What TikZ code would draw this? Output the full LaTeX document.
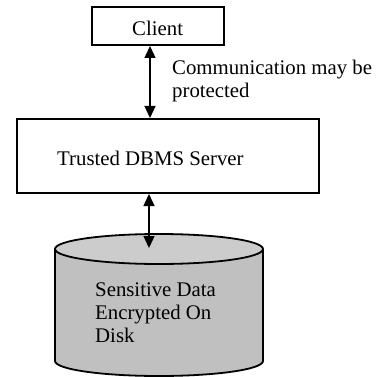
\documentclass[tikz,border=0pt]{standalone}
\usepackage{fontspec}
\setmainfont{Liberation Serif}
\usetikzlibrary{arrows.meta}
\definecolor{bodygray}{HTML}{C0C0C0}
\definecolor{topgray}{HTML}{CCCCCC}
\tikzset{
  boxnode/.style={draw=black, line width=2pt, fill=white, inner sep=0pt},
  arr/.style={line width=1.3pt, {Triangle[length=12pt,width=11pt]}-{Triangle[length=12pt,width=11pt]}},
  lbl/.style={inner sep=0pt, anchor=base west, font=\fontsize{20.8}{23}\selectfont, align=left},
}
\begin{document}
\begin{tikzpicture}[x=1pt,y=-1pt]
\useasboundingbox (0,0) rectangle (375,377);
% cylinder
\fill[bodygray] (55,249) -- (55,361) arc[start angle=180,end angle=0,x radius=104,y radius=15] -- (263,249) -- cycle;
\draw[line width=1.8pt] (55,249) -- (55,361) arc[start angle=180,end angle=0,x radius=104,y radius=15] -- (263,249);
\draw[line width=1.8pt, fill=topgray] (159,249) ellipse[x radius=104, y radius=15];
\coordinate (disktop) at (149,248);
% boxes
\node[boxnode, minimum width=132pt, minimum height=38pt] (client) at (158,26) {};
\node[boxnode, minimum width=302pt, minimum height=74pt] (server) at (168,156) {};
% texts
\node[lbl] (clienttxt) at (132,36) {Client};
\node[lbl] (servertxt) at (57,165) {Trusted DBMS Server};
\node[lbl] (comm) at (172,98) {Communication may be\\protected};
\node[lbl] (disktxt) at (95,342) {Sensitive Data\\Encrypted On\\Disk};
% connectors
\coordinate (ax1) at (150,0);
\coordinate (ax2) at (149,0);
\draw[arr] (client.south -| ax1) -- (server.north -| ax1);
\draw[arr] (server.south -| ax2) -- (disktop);
\end{tikzpicture}
\end{document}
